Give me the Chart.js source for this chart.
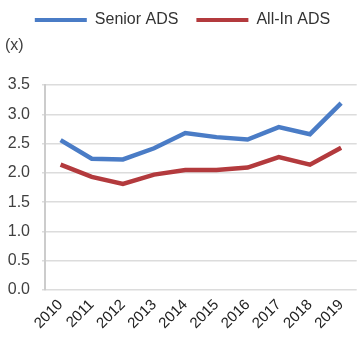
<!DOCTYPE html>
<html>
<head>
<meta charset="utf-8">
<script src="https://cdn.jsdelivr.net/npm/chart.js@4"></script>
<style>
  html, body { margin: 0; padding: 0; background: #fff; }
  #wrap { width: 360px; height: 348px; position: relative; }
</style>
</head>
<body>
<div id="wrap"><canvas id="adsChart"></canvas></div>
<script>
// Debt service coverage, 2010-2019
const years = ['2010', '2011', '2012', '2013', '2014', '2015', '2016', '2017', '2018', '2019'];
const seniorAds = [2.56, 2.24, 2.23, 2.42, 2.68, 2.61, 2.57, 2.78, 2.66, 3.19];
const allInAds = [2.14, 1.93, 1.81, 1.97, 2.05, 2.05, 2.09, 2.27, 2.14, 2.43];

const BLUE = '#4a7cc6';
const RED = '#b33a3d';
const FONT = '"Liberation Sans", Arial, sans-serif';

// Leave room under the legend for the unit label, and nudge the items up/right
const legendSpacer = {
  id: 'legendSpacer',
  beforeInit(chart) {
    const fit = chart.legend.fit;
    chart.legend.fit = function () {
      fit.bind(chart.legend)();
      this.height += 39;
    };
  },
  afterLayout(chart) {
    chart.legend.left += 4;
    chart.legend.right += 4;
    chart.legend.top -= 8;
  }
};

// Small "(x)" unit label above the value axis
const unitLabel = {
  id: 'unitLabel',
  afterDraw(chart) {
    const ctx = chart.ctx;
    ctx.save();
    ctx.font = '16px ' + FONT;
    ctx.fillStyle = '#404040';
    ctx.textBaseline = 'middle';
    ctx.textAlign = 'left';
    ctx.fillText('(x)', 5, 46);
    ctx.restore();
  }
};

const ctx = document.getElementById('adsChart').getContext('2d');
new Chart(ctx, {
  type: 'line',
  data: {
    labels: years,
    datasets: [
      {
        label: 'Senior ADS',
        data: seniorAds,
        borderColor: BLUE,
        backgroundColor: BLUE,
        borderWidth: 4.5,
        pointRadius: 0,
        tension: 0,
      },
      {
        label: 'All-In ADS',
        data: allInAds,
        borderColor: RED,
        backgroundColor: RED,
        borderWidth: 4.5,
        pointRadius: 0,
        tension: 0,
      }
    ]
  },
  options: {
    responsive: true,
    maintainAspectRatio: false,
    animation: false,
    layout: { padding: { top: 2, right: 3, left: 0, bottom: 0 } },
    plugins: {
      legend: {
        position: 'top',
        align: 'center',
        labels: {
          boxWidth: 52,
          boxHeight: 4,
          padding: 18,
          color: '#333',
          font: { family: FONT, size: 16 },
          generateLabels(chart) {
            return chart.data.datasets.map((ds, i) => ({
              text: ds.label,
              fillStyle: ds.borderColor,
              strokeStyle: ds.borderColor,
              lineWidth: 0,
              fontColor: '#333',
              datasetIndex: i,
            }));
          }
        }
      },
      tooltip: { enabled: false },
    },
    scales: {
      x: {
        offset: true,
        grid: { display: false, drawTicks: false },
        border: { display: false },
        ticks: {
          color: '#222',
          font: { family: FONT, size: 15 },
          minRotation: 45,
          maxRotation: 45,
          padding: 6,
          autoSkip: false,
        },
        afterFit(scale) { scale.height = 58; }
      },
      y: {
        min: 0,
        max: 3.5,
        grid: { color: '#dcdcdc', lineWidth: 1.5, tickLength: 3 },
        border: { color: '#cccccc', width: 2 },
        ticks: {
          stepSize: 0.5,
          color: '#404040',
          padding: 12,
          font: { family: FONT, size: 16 },
          callback: (v) => v.toFixed(1),
        },
        afterFit(scale) { scale.width = 45; }
      }
    }
  },
  plugins: [legendSpacer, unitLabel]
});
</script>
</body>
</html>
